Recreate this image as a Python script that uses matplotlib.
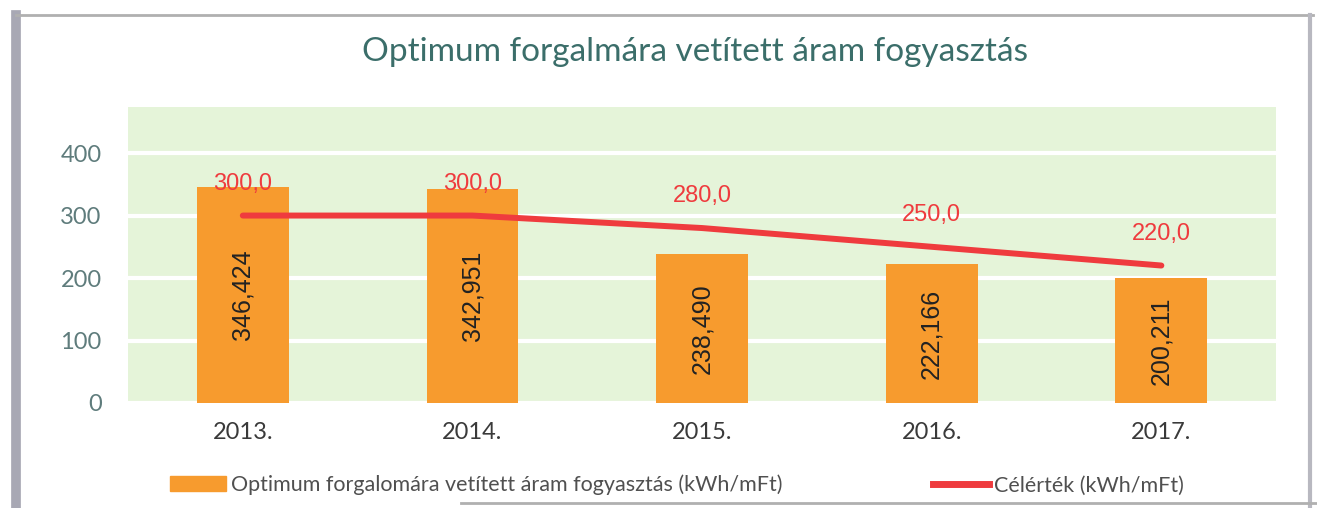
import matplotlib.pyplot as plt
from matplotlib.lines import Line2D
from matplotlib.patches import Patch

# Adatok
years = ['2013.', '2014.', '2015.', '2016.', '2017.']
consumption = [346.424, 342.951, 238.490, 222.166, 200.211]
target = [300.0, 300.0, 280.0, 250.0, 220.0]

bar_color = '#F79B2E'
line_color = '#EF3B3E'

fig = plt.figure(figsize=(13.17, 5.08), dpi=100)
ax = fig.add_axes([0.0972, 0.2067, 0.8718, 0.583])
ax.set_facecolor('#E5F4D9')

x = range(len(years))
ax.bar(x, consumption, width=0.4, color=bar_color, zorder=2)
ax.plot(x, target, color=line_color, linewidth=4.3, solid_capstyle='round', zorder=3)

# feliratok az oszlopokon es a vonalon
for i, v in enumerate(consumption):
    ax.text(i, v / 2, f'{v:.3f}'.replace('.', ','), rotation=90, ha='center', va='center',
            fontsize=18, family='Liberation Sans', color='#222222', zorder=4)
for i, v in enumerate(target):
    ax.annotate(f'{v:.1f}'.replace('.', ','), (i, v), xytext=(0, 23), textcoords='offset points',
                ha='center', va='center', fontsize=17, family='Liberation Sans',
                color=line_color, zorder=4)

ax.set_xlim(-0.5, 4.5)
ax.set_ylim(0, 474)
ax.set_yticks([0, 100, 200, 300, 400])
ax.set_xticks(list(x))
ax.set_xticklabels(years)
ax.tick_params(axis='y', length=0, pad=19, labelsize=17, labelcolor='#5F7C7C')
ax.tick_params(axis='x', length=0, pad=14, labelsize=17, labelcolor='#3A3A3A')
for lbl in ax.get_xticklabels() + ax.get_yticklabels():
    lbl.set_family('Lato')
ax.grid(axis='y', color='white', linewidth=3, zorder=1)
ax.set_axisbelow(True)
for s in ax.spines.values():
    s.set_visible(False)

fig.text(0.528, 0.898, 'Optimum forgalmára vetített áram fogyasztás', ha='center', va='center',
         fontsize=24, family='Lato', color='#3B6E6A')

# jelmagyarazat
handles = [Patch(color=bar_color), Line2D([0], [0], color=line_color, linewidth=5)]
labels = ['Optimum forgalomára vetített áram fogyasztás (kWh/mFt)', 'Célérték (kWh/mFt)']
leg = fig.legend(handles, labels, loc='center', bbox_to_anchor=(0.514, 0.045), ncol=2,
                 frameon=False, prop={'family': 'Lato', 'size': 15.5}, columnspacing=7.0,
                 handlelength=2.6, handletextpad=0.25)
for t in leg.get_texts():
    t.set_color('#505050')

# keret (szkennelt lap szele)
fig.add_artist(Line2D([0.012, 0.012], [0.0, 0.97], color='#A8A8B4', linewidth=7))
fig.add_artist(Line2D([0.012, 0.997], [0.97, 0.97], color='#B0B0B0', linewidth=2))
fig.add_artist(Line2D([0.995, 0.995], [0.0, 0.97], color='#B8B8C0', linewidth=3))
fig.add_artist(Line2D([0.35, 1.0], [0.01, 0.01], color='#B0B0B0', linewidth=2))

fig.savefig('out.png', dpi=100)
